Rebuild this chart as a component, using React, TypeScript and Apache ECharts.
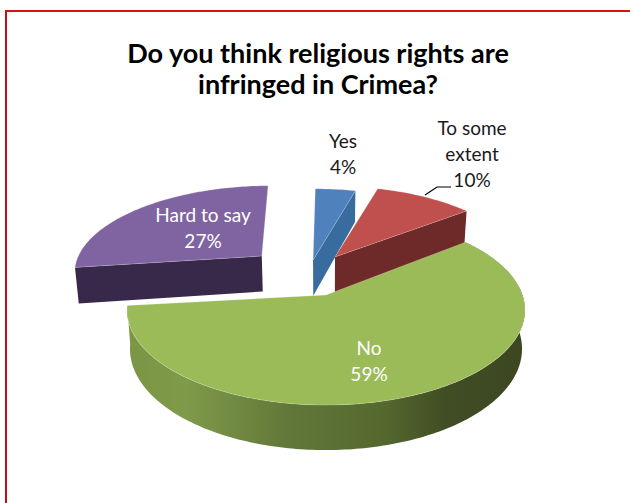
import React, { useEffect, useRef } from "react";
import * as echarts from "echarts";

const titleText = "Do you think religious rights are\ninfringed in Crimea?";
const categories = ["Yes", "To some\nextent", "No", "Hard to say"];
const percents = [4, 10, 59, 27];
const topColors = ["#4f81bd", "#bf504d", "#9bbb59", "#8064a2"];
const wallColors = ["#386b9e", "#6e2a28", "#5f7434", "#38294a"];
const labelColors = ["#1a1a1a", "#1a1a1a", "#ffffff", "#ffffff"];

// Projection of the tilted pie (screen geometry)
const CX = 326, CY = 295, R = 196.5, K = 0.158, B = -46.05, DEPTH = 37.9, BOTTOM_SCALE = 0.985;
const START_DEG = 0.8;
// Offset of each exploded slice in the pie plane, in radii, and small turn in degrees
const SHIFT: [number, number][] = [[-0.07, 0.4], [0.049, 0.439], [0, 0], [-0.35, 0.45]];
const TURN = [-0.6, 0.6, 0, -1.5];
const ORDER = [2, 3, 4, 1];
const LABEL_POS: [number, number][] = [[343, 153], [472, 153], [369, 360], [203, 227]];

const project = (X: number, Y: number, lower: boolean): number[] => {
  const w = 1 + K * Y;
  const sc = lower ? BOTTOM_SCALE : 1;
  return [CX + (sc * R * X) / w, (CY + B * Y) / w + (lower ? DEPTH / w : 0)];
};

function renderItem(params: any, api: any) {
  const i = params.dataIndex;
  const before = percents.slice(0, i).reduce((a, b) => a + b, 0);
  const a0 = START_DEG + TURN[i] + (before / 100) * 360;
  const a1 = a0 + (api.value(0) / 100) * 360;
  const [sx, sy] = SHIFT[i];
  const rim: [number, number][] = [];
  const n = Math.max(8, Math.round(a1 - a0));
  for (let k = 0; k <= n; k++) {
    const t = ((a0 + ((a1 - a0) * k) / n) * Math.PI) / 180;
    rim.push([sx + Math.sin(t), sy + Math.cos(t)]);
  }
  const z2 = ORDER[i];
  const edge = { stroke: "rgba(255,255,255,0.35)", lineWidth: 0.6 };
  const children: any[] = [];
  const a = rim[rim.length - 1];
  const b = rim[0];
  // radial wall facing the viewer
  const radial = i === 0 || i === 1 ? a : i === 3 ? b : null;
  if (radial) {
    children.push({
      type: "polygon",
      z2,
      shape: {
        points: [project(sx, sy, false), project(radial[0], radial[1], false), project(radial[0], radial[1], true), project(sx, sy, true)],
      },
      style: { fill: wallColors[i] },
    });
  }
  if (i === 2) {
    const upper = rim.map((p) => project(p[0], p[1], false));
    const lower = rim.map((p) => project(p[0], p[1], true)).reverse();
    children.push({
      type: "polygon",
      z2,
      shape: { points: upper.concat(lower) },
      style: {
        fill: new echarts.graphic.LinearGradient(1, 0, 0, 0, [
          { offset: 0, color: "#3c4722" },
          { offset: 0.2, color: "#414d23" },
          { offset: 0.35, color: "#54682e" },
          { offset: 0.6, color: "#62783a" },
          { offset: 0.85, color: "#7f9a49" },
          { offset: 1, color: "#7a9543" },
        ]),
      },
    });
  }
  children.push({
    type: "polygon",
    z2,
    shape: { points: [project(sx, sy, false)].concat(rim.map((p) => project(p[0], p[1], false))) },
    style: { fill: topColors[i], ...edge },
  });
  const [lx, ly] = LABEL_POS[i];
  children.push({
    type: "text",
    z2: 10,
    x: lx,
    y: ly,
    style: {
      text: categories[i] + "\n" + api.value(0) + "%",
      fill: labelColors[i],
      font: '19px Lato, "Open Sans", sans-serif',
      lineHeight: 26,
      align: "center",
      verticalAlign: "middle",
    },
  });
  return { type: "group", children };
}

export default function App() {
  const ref = useRef<HTMLDivElement>(null);
  useEffect(() => {
    document.body.style.margin = "0";
    const chart = echarts.init(ref.current!, undefined, { renderer: "svg" });
    chart.setOption({
      animation: false,
      backgroundColor: "#ffffff",
      title: {
        text: titleText,
        left: 313,
        top: 32,
        textAlign: "center",
        textStyle: {
          fontFamily: 'Lato, "Open Sans", sans-serif',
          fontWeight: "bold",
          fontSize: 27,
          lineHeight: 31,
          color: "#000000",
        },
      },
      series: [
        {
          type: "custom",
          coordinateSystem: "none",
          renderItem,
          data: percents.map((v) => [v]),
        },
      ],
      graphic: [
        {
          type: "line",
          shape: { x1: 6, y1: 11, x2: 6, y2: 503 },
          style: { stroke: "#bf1018", lineWidth: 2 },
        },
        {
          type: "line",
          shape: { x1: 5, y1: 11, x2: 630, y2: 11 },
          style: { stroke: "#dc1019", lineWidth: 2 },
        },
        {
          type: "polyline",
          z: 5,
          shape: { points: [[425, 195], [437, 187], [451, 187]] },
          style: { fill: "none", stroke: "#000000", lineWidth: 1.2 },
        },
      ],
    });
    return () => chart.dispose();
  }, []);
  return <div ref={ref} style={{ width: 630, height: 503 }} />;
}
